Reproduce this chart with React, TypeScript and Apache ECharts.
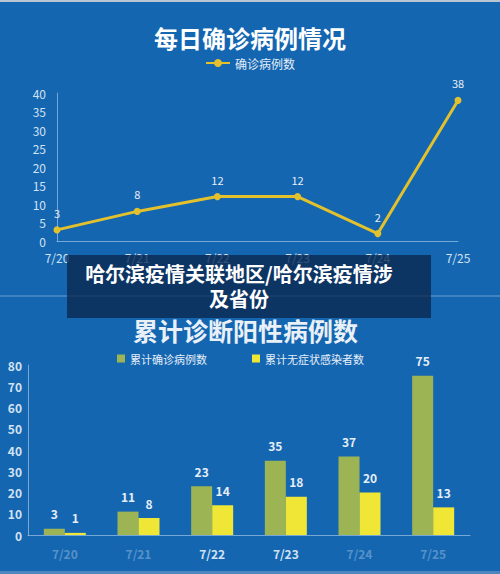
import React, { useEffect, useRef } from "react";
import * as echarts from "echarts";

const dailyDates = ["7/20", "7/21", "7/22", "7/23", "7/24", "7/25"];
const dailyConfirmed = [3, 8, 12, 12, 2, 38];

const cumDates = ["7/20", "7/21", "7/22", "7/23", "7/24", "7/25"];
const cumConfirmed = [3, 11, 23, 35, 37, 75];
const cumAsymptomatic = [1, 8, 14, 18, 20, 13];
const blurredCumDates = ["7/20", "7/21", "7/24", "7/25"];

const topTitle = "每日确诊病例情况";
const bottomTitle = "累计诊断阳性病例数";
const bannerLine1 = "哈尔滨疫情关联地区/哈尔滨疫情涉";
const bannerLine2 = "及省份";

export default function App() {
  const ref = useRef<HTMLDivElement>(null);
  useEffect(() => {
    document.body.style.margin = "0";
    const chart = echarts.init(ref.current!, null, { renderer: "svg" });
    const axisTextColor = "#d3e2f2";
    const axisLineColor = "rgba(200,220,240,0.55)";
    const font = "'Noto Sans CJK SC', 'Noto Sans', sans-serif";
    chart.setOption({
      animation: false,
      backgroundColor: "#1466b1",
      textStyle: { fontFamily: font },
      title: [
        {
          text: topTitle,
          left: "center",
          top: 20,
          textStyle: { color: "#ffffff", fontSize: 24, fontWeight: "bold", fontFamily: font },
        },
        {
          text: bottomTitle,
          left: 128,
          top: 312,
          textStyle: { color: "#e9f0f8", fontSize: 25, fontWeight: "bold", fontFamily: font },
        },
      ],
      legend: [
        {
          data: ["确诊病例数"],
          left: "center",
          top: 52,
          itemWidth: 24,
          itemHeight: 10,
          textStyle: { color: "#e6eef7", fontSize: 12 },
        },
        {
          data: ["累计确诊病例数", "累计无症状感染者数"],
          left: 112,
          top: 348,
          itemGap: 45,
          itemWidth: 8,
          itemHeight: 8,
          icon: "rect",
          textStyle: { color: "#e6eef7", fontSize: 11 },
        },
      ],
      grid: [
        { left: 57, right: 42, top: 93, bottom: 333 },
        { left: 28, right: 30, top: 365, bottom: 39 },
      ],
      xAxis: [
        {
          type: "category",
          gridIndex: 0,
          data: dailyDates,
          boundaryGap: false,
          axisLine: { lineStyle: { color: axisLineColor } },
          axisTick: { show: false },
          axisLabel: { color: axisTextColor, fontSize: 12, margin: 10 },
        },
        {
          type: "category",
          gridIndex: 1,
          data: cumDates,
          axisLine: { lineStyle: { color: axisLineColor } },
          axisTick: { show: false },
          axisLabel: {
            fontSize: 12,
            margin: 12,
            fontWeight: "bold",
            color: (v: string) =>
              blurredCumDates.includes(v) ? "rgba(220,232,245,0.35)" : axisTextColor,
          },
        },
      ],
      yAxis: [
        {
          type: "value",
          gridIndex: 0,
          min: 0,
          max: 40,
          interval: 5,
          axisLine: { show: true, lineStyle: { color: axisLineColor } },
          axisTick: { show: false },
          splitLine: { show: false },
          axisLabel: { color: axisTextColor, fontSize: 12, margin: 11 },
        },
        {
          type: "value",
          gridIndex: 1,
          min: 0,
          max: 80,
          interval: 10,
          axisLine: { show: true, lineStyle: { color: axisLineColor } },
          axisTick: { show: false },
          splitLine: { show: false },
          axisLabel: {
            fontSize: 12,
            margin: 6,
            fontWeight: "bold",
            color: (v: number) => (v === 0 ? "rgba(220,232,245,0.35)" : axisTextColor),
          },
        },
      ],
      series: [
        {
          name: "确诊病例数",
          type: "line",
          xAxisIndex: 0,
          yAxisIndex: 0,
          data: dailyConfirmed,
          symbol: "circle",
          symbolSize: 7,
          lineStyle: { color: "#e3c12c", width: 3 },
          itemStyle: { color: "#e3c12c" },
          label: { show: true, position: "top", distance: 8, color: "#e6eef7", fontSize: 11 },
        },
        {
          name: "累计确诊病例数",
          type: "bar",
          xAxisIndex: 1,
          yAxisIndex: 1,
          data: cumConfirmed,
          barWidth: 21,
          barGap: "0%",
          itemStyle: { color: "#9db455" },
          label: { show: true, position: "top", distance: 9, color: "#e6eef7", fontSize: 12, fontWeight: "bold" },
        },
        {
          name: "累计无症状感染者数",
          type: "bar",
          xAxisIndex: 1,
          yAxisIndex: 1,
          data: cumAsymptomatic,
          barWidth: 21,
          barGap: "0%",
          itemStyle: { color: "#f0e635" },
          label: { show: true, position: "top", distance: 9, color: "#e6eef7", fontSize: 12, fontWeight: "bold" },
        },
      ],
      graphic: [
        { type: "rect", shape: { x: 0, y: 0, width: 500, height: 2 }, style: { fill: "#b9c6d3" }, silent: true },
        { type: "rect", shape: { x: 0, y: 571, width: 500, height: 3 }, style: { fill: "#4d86be" }, silent: true },
        { type: "line", shape: { x1: 0, y1: 296, x2: 500, y2: 296 }, style: { stroke: "rgba(200,220,240,0.5)", lineWidth: 1 }, silent: true },
        {
          type: "rect",
          shape: { x: 67, y: 255, width: 364, height: 63 },
          style: { fill: "rgba(12,40,78,0.78)" },
          z: 100,
          silent: true,
        },
        {
          type: "text",
          x: 239,
          y: 273,
          z: 101,
          style: {
            text: bannerLine1,
            fill: "#ffffff",
            fontSize: 20,
            fontWeight: "bold",
            fontFamily: font,
            align: "center",
            verticalAlign: "middle",
          },
        },
        {
          type: "text",
          x: 239,
          y: 298,
          z: 101,
          style: {
            text: bannerLine2,
            fill: "#ffffff",
            fontSize: 20,
            fontWeight: "bold",
            fontFamily: font,
            align: "center",
            verticalAlign: "middle",
          },
        },
      ],
    });
    return () => chart.dispose();
  }, []);
  return <div ref={ref} style={{ width: 500, height: 574 }} />;
}
